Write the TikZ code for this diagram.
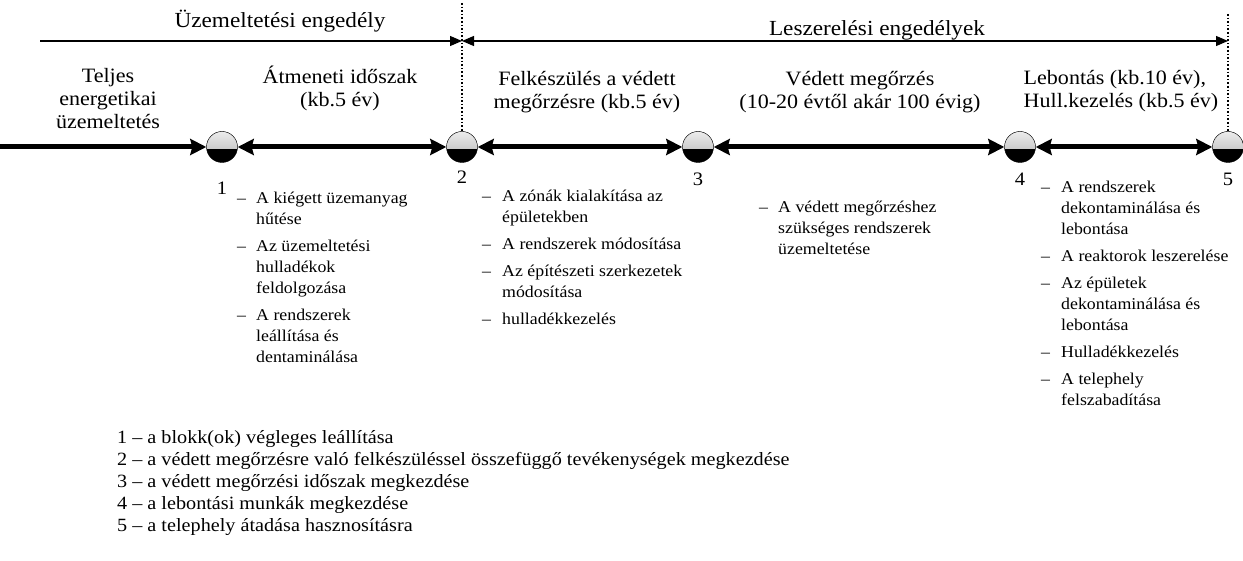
\documentclass[tikz,border=0pt]{standalone}
\usepackage{fontspec}
\setmainfont{Liberation Serif}[FakeStretch=1.08]
\usetikzlibrary{arrows.meta, positioning}

\begin{document}
\begin{tikzpicture}[
    x=1pt, y=1pt,
    ball/.style={
        circle,
        draw=black,
        fill=black,
        minimum size=31pt,
        inner sep=0pt,
        path picture={\shade[top color=gray!15, bottom color=gray!60]
            (path picture bounding box.north west) rectangle ([yshift=-2pt]path picture bounding box.east);}
    },
    tl/.style={line width=5pt, -{Stealth[length=16pt,width=16pt,inset=2pt]}},
    tlboth/.style={line width=5pt, {Stealth[length=16pt,width=16pt,inset=2pt]}-{Stealth[length=16pt,width=16pt,inset=2pt]}},
    permit/.style={line width=1.2pt, -{Triangle[length=12pt,width=10pt]}},
    permitboth/.style={line width=1.2pt, {Triangle[length=12pt,width=10pt]}-{Triangle[length=12pt,width=10pt]}},
    marker/.style={line width=1.6pt, dotted},
    head/.style={font=\fontsize{21.5}{24}\selectfont},
    phase/.style={align=center, font=\fontsize{20.4}{23}\selectfont},
    num/.style={font=\fontsize{19}{21}\selectfont, inner sep=0pt},
    todo/.style={anchor=north west, inner sep=0pt, font=\fontsize{16.5}{21}\selectfont},
    legend/.style={anchor=north west, inner sep=0pt, align=left, font=\fontsize{18.7}{22}\selectfont}
]
    \useasboundingbox (0,0) rectangle (1243,-561);

    % milestones
    \node[ball] (m1) at (222,-147) {};
    \node[ball] (m2) at (462,-147) {};
    \node[ball] (m3) at (698,-147) {};
    \node[ball] (m4) at (1020,-147) {};
    \node[ball] (m5) at (1228,-147) {};
    \node[num, below=19pt of m1] (n1) {1};
    \node[num, below=8pt of m2] (n2) {2};
    \node[num, below=10pt of m3] (n3) {3};
    \node[num, below=10pt of m4] (n4) {4};
    \node[num, below=10pt of m5] (n5) {5};

    % time line
    \coordinate (start) at (0,-147);
    \draw[tl] (start) -- (m1);
    \draw[tlboth] (m1) -- (m2);
    \draw[tlboth] (m2) -- (m3);
    \draw[tlboth] (m3) -- (m4);
    \draw[tlboth] (m4) -- (m5);

    % permits
    \coordinate (top2) at (462,-3);
    \coordinate (top5) at (1228,-14);
    \draw[marker] (top2) -- (m2.north);
    \draw[marker] (top5) -- (m5.north);
    \coordinate (uzstart) at (40,-41);
    \coordinate (uzend) at (462,-41);
    \coordinate (lszend) at (1228,-41);
    \draw[permit] (uzstart) -- (uzend);
    \draw[permitboth] (uzend) -- (lszend);
    \node[head] (uzem) at (280,-21) {Üzemeltetési engedély};
    \node[head] (lesz) at (877,-30) {Leszerelési engedélyek};

    % phases
    \node[phase] (teljes) at (108,-99) {Teljes\\energetikai\\üzemeltetés};
    \node[phase] (atmeneti) at (340,-88) {Átmeneti időszak\\(kb.5 év)};
    \node[phase] (felkesz) at (587,-92) {Felkészülés a védett\\megőrzésre (kb.5 év)};
    \node[phase] (vedett) at (860,-92) {Védett megőrzés\\(10-20 évtől akár 100 évig)};
    \node[phase, align=left] (lebontas) at (1121,-91) {Lebontás (kb.10 év),\\Hull.kezelés (kb.5 év)};

    % tasks
    \node[todo] (list1) at (237,-189) {\begin{tabular}{@{}p{19pt}@{}l@{}}
        – & A kiégett üzemanyag\\
          & hűtése\\[6pt]
        – & Az üzemeltetési\\
          & hulladékok\\
          & feldolgozása\\[6pt]
        – & A rendszerek\\
          & leállítása és\\
          & dentaminálása
    \end{tabular}};
    \node[todo] (list2) at (482,-187) {\begin{tabular}{@{}p{20pt}@{}l@{}}
        – & A zónák kialakítása az\\
          & épületekben\\[6pt]
        – & A rendszerek módosítása\\[6pt]
        – & Az építészeti szerkezetek\\
          & módosítása\\[6pt]
        – & hulladékkezelés
    \end{tabular}};
    \node[todo] (list3) at (759,-198) {\begin{tabular}{@{}p{19pt}@{}l@{}}
        – & A védett megőrzéshez\\
          & szükséges rendszerek\\
          & üzemeltetése
    \end{tabular}};
    \node[todo] (list4) at (1041,-178) {\begin{tabular}{@{}p{20pt}@{}l@{}}
        – & A rendszerek\\
          & dekontaminálása és\\
          & lebontása\\[6pt]
        – & A reaktorok leszerelése\\[6pt]
        – & Az épületek\\
          & dekontaminálása és\\
          & lebontása\\[6pt]
        – & Hulladékkezelés\\[6pt]
        – & A telephely\\
          & felszabadítása
    \end{tabular}};

    % legend
    \node[legend] (key) at (117,-430) {1 – a blokk(ok) végleges leállítása\\
        2 – a védett megőrzésre való felkészüléssel összefüggő tevékenységek megkezdése\\
        3 – a védett megőrzési időszak megkezdése\\
        4 – a lebontási munkák megkezdése\\
        5 – a telephely átadása hasznosításra};
\end{tikzpicture}
\end{document}
